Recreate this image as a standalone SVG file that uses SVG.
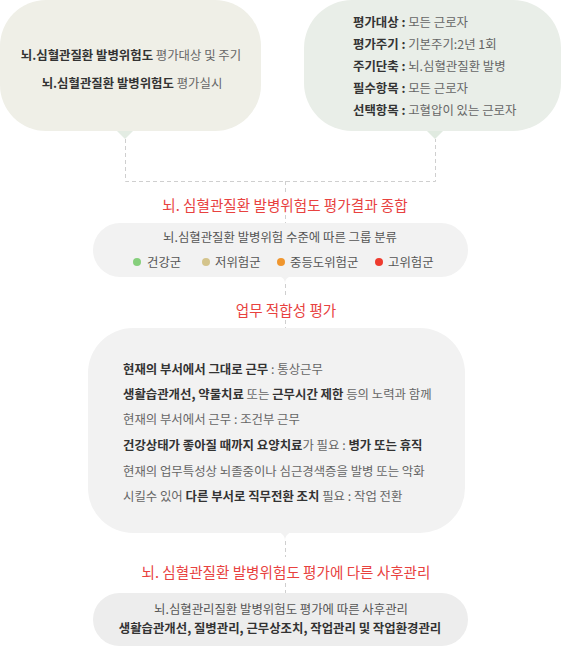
<svg xmlns="http://www.w3.org/2000/svg" width="563" height="650" viewBox="0 0 563 650">
<style>
text{font-family:"Noto Sans CJK KR","Noto Sans",sans-serif;font-size:12.4px;letter-spacing:0;fill:#666}
.b{font-weight:bold;fill:#333}
.t{font-size:14.6px;fill:#e8423f}
.c{text-anchor:middle}
.dash{fill:none;stroke:#cfcfcf;stroke-width:1;stroke-dasharray:4 3}
.box{fill:#f2f2f2}
</style>
<rect width="563" height="650" fill="#fff"/>
<g id="connectors">
<path class="dash" d="M125.5,139 V181.5 H435.5 V139"/>
<path class="dash" d="M285.5,181 V192 M285.5,215 V223"/>
<path class="dash" d="M285.5,284 V296 M285.5,320 V328"/>
<path class="dash" d="M285.5,541 V557 M285.5,583 V593"/>
</g>
<g id="node-left">
<rect x="0" y="0" width="261" height="131" rx="46" fill="#efefe7"/>
<path d="M117,131 L125,139 L133,131 Z" fill="#e3ece3"/>
<text class="c" x="131" y="60"><tspan class="b">뇌.심혈관질환 발병위험도</tspan> 평가대상 및 주기</text>
<text class="c" x="132" y="88"><tspan class="b">뇌.심혈관질환 발병위험도</tspan> 평가실시</text>
</g>
<g id="node-right">
<rect x="304" y="0" width="257" height="131" rx="48" fill="#e9eee8"/>
<path d="M427,131 L435,139 L443,131 Z" fill="#e0eae0"/>
<text x="353" y="27"><tspan class="b">평가대상 :</tspan> 모든 근로자</text>
<text x="353" y="49"><tspan class="b">평가주기 :</tspan> 기본주기:2년 1회</text>
<text x="353" y="71"><tspan class="b">주기단축 :</tspan> 뇌.심혈관질환 발병</text>
<text x="353" y="93"><tspan class="b">필수항목 :</tspan> 모든 근로자</text>
<text x="353" y="115"><tspan class="b">선택항목 :</tspan> 고혈압이 있는 근로자</text>
</g>
<g id="title-1">
<text class="t c" x="285" y="211">뇌. 심혈관질환 발병위험도 평가결과 종합</text>
</g>
<g id="node-group">
<rect class="box" x="93" y="223" width="375" height="54" rx="27"/>
<path class="box" d="M278,276 Q285,277 285,284 Q285,277 292,276 Z"/>
<text class="c" x="280" y="242" style="fill:#555">뇌.심혈관질환 발병위험 수준에 따른 그룹 분류</text>
<circle cx="137" cy="262" r="4" fill="#86cf7c"/>
<text x="147" y="267" style="fill:#555">건강군</text>
<circle cx="206" cy="262" r="4" fill="#d4c48c"/>
<text x="215" y="267" style="fill:#555">저위험군</text>
<circle cx="281" cy="262" r="4" fill="#f0962e"/>
<text x="290" y="267" style="fill:#555">중등도위험군</text>
<circle cx="379" cy="262" r="4" fill="#ee3b2e"/>
<text x="388" y="267" style="fill:#555">고위험군</text>
</g>
<g id="title-2">
<text class="t c" x="286" y="316">업무 적합성 평가</text>
</g>
<g id="node-fitness">
<rect class="box" x="88" y="328" width="377" height="205" rx="45"/>
<path class="box" d="M278,532 Q285,534 285,541 Q285,534 292,532 Z"/>
<text x="123" y="374"><tspan class="b">현재의 부서에서 그대로 근무</tspan> : 통상근무</text>
<text x="123" y="399"><tspan class="b">생활습관개선, 약물치료</tspan> 또는 <tspan class="b">근무시간 제한</tspan> 등의 노력과 함께</text>
<text x="123" y="424">현재의 부서에서 근무 : 조건부 근무</text>
<text x="123" y="450"><tspan class="b">건강상태가 좋아질 때까지 요양치료</tspan>가 필요 : <tspan class="b">병가 또는 휴직</tspan></text>
<text x="123" y="476">현재의 업무특성상 뇌졸중이나 심근경색증을 발병 또는 악화</text>
<text x="123" y="501">시킬수 있어 <tspan class="b">다른 부서로 직무전환 조치</tspan> 필요 : 작업 전환</text>
</g>
<g id="title-3">
<text class="t c" x="286" y="578">뇌. 심혈관질환 발병위험도 평가에 다른 사후관리</text>
</g>
<g id="node-aftercare">
<rect x="93" y="593" width="375" height="53" rx="26.5" fill="#ededed"/>
<text class="c" x="281" y="614" style="fill:#555">뇌.심혈관리질환 발병위험도 평가에 따른 사후관리</text>
<text class="c b" x="280" y="633">생활습관개선, 질병관리, 근무상조치, 작업관리 및 작업환경관리</text>
</g>
</svg>
